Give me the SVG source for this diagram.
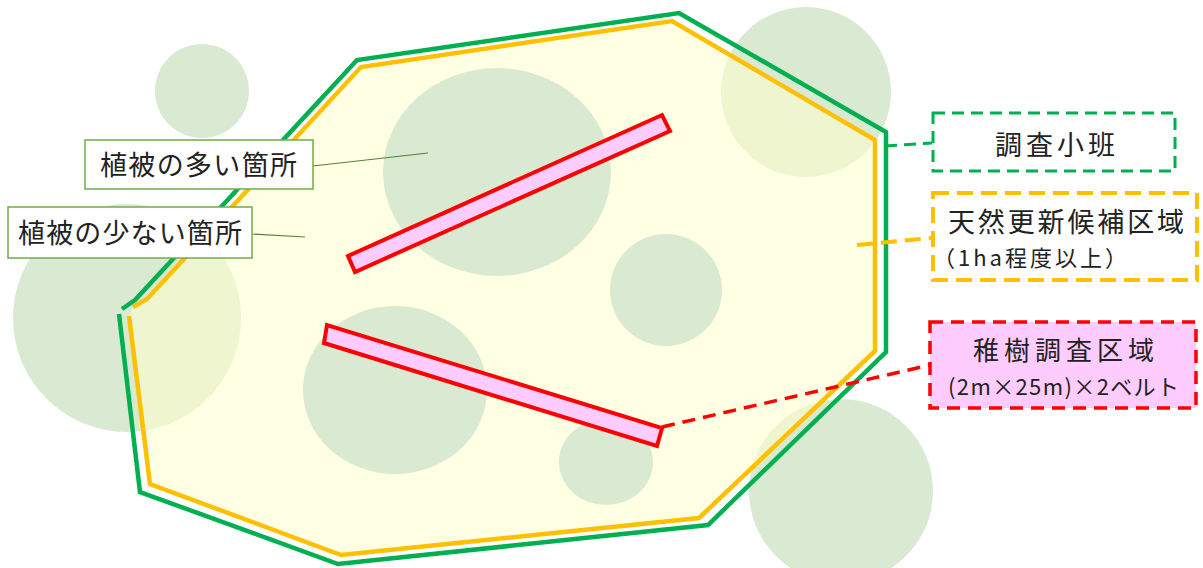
<svg xmlns="http://www.w3.org/2000/svg" width="1203" height="568" viewBox="0 0 1203 568">
<style>
.cir{fill:#DAE9D2}
.lbl{font-family:"Noto Sans CJK JP","Noto Sans",sans-serif;fill:#222}
.lbox{fill:#fff;stroke:#70AD47;stroke-width:1.5}
.lead{stroke:#548235;stroke-width:1.2;fill:none}
.belt{fill:#FFCCFF;stroke:#FF0000;stroke-width:4;stroke-linejoin:miter}
</style>
<rect width="1203" height="568" fill="#fff"/>
<g id="edge-circles">
<circle class="cir" cx="202" cy="91" r="47"/>
<circle class="cir" cx="806" cy="92" r="85"/>
<circle class="cir" cx="127" cy="318" r="114"/>
<circle class="cir" cx="841" cy="491" r="92"/>
</g>
<g id="candidate-area-fill">
<polygon points="133,307 147,299 361,67 672,21 875,140 875,351 699,518 341,555 150,484 129,316" fill="#FFFFCC" fill-opacity="0.55"/>
</g>
<g id="inner-circles">
<ellipse class="cir" cx="497" cy="172" rx="114" ry="104"/>
<circle class="cir" cx="666" cy="290" r="56"/>
<ellipse class="cir" cx="395" cy="390" rx="92" ry="84"/>
<ellipse class="cir" cx="606" cy="462" rx="47" ry="43"/>
</g>
<g id="candidate-area">
<path d="M133,307 L147,299 L361,67 L672,21 L875,140 L875,351 L699,518 L341,555 L150,484 L129,316" fill="none" stroke="#FFC000" stroke-width="4.5"/>
</g>
<g id="stand">
<path d="M122,309 L135,300 L357,60 L679,13 L886,132 L886,352 L708,525 L338,564 L140,492 L119,314" fill="none" stroke="#00B050" stroke-width="4.5"/>
</g>
<g id="belt1">
<polygon class="belt" points="348,256 355,272 670,131 662,115"/>
</g>
<g id="belt2">
<polygon class="belt" points="327,325 324,343 657,446 662,428"/>
</g>
<g id="connectors">
<line x1="885" y1="146" x2="932" y2="143" stroke="#00B050" stroke-width="3" stroke-dasharray="12,7"/>
<line x1="857" y1="245" x2="932" y2="238" stroke="#FFC000" stroke-width="4" stroke-dasharray="16,8"/>
<line x1="662" y1="427" x2="930" y2="365" stroke="#FF0000" stroke-width="3.5" stroke-dasharray="13,8"/>
<line class="lead" x1="313" y1="166" x2="428" y2="153"/>
<line class="lead" x1="252" y1="234" x2="305" y2="237"/>
</g>
<g id="label-many">
<rect class="lbox" x="85" y="140" width="228" height="49"/>
<text class="lbl" x="100" y="175" font-size="27" textLength="197" lengthAdjust="spacing">植被の多い箇所</text>
</g>
<g id="label-few">
<rect class="lbox" x="8" y="207" width="244" height="51"/>
<text class="lbl" x="18" y="243" font-size="27" textLength="224" lengthAdjust="spacing">植被の少ない箇所</text>
</g>
<g id="box-stand">
<rect x="933" y="113" width="242" height="58" fill="#fff" stroke="#00B050" stroke-width="3" stroke-dasharray="12,7"/>
<text class="lbl" x="995" y="155" font-size="27" textLength="120" lengthAdjust="spacing">調査小班</text>
</g>
<g id="box-candidate">
<rect x="933" y="193" width="264" height="87" fill="#fff" stroke="#FFC000" stroke-width="4" stroke-dasharray="16,8"/>
<text class="lbl" x="948" y="232" font-size="27" textLength="236" lengthAdjust="spacing">天然更新候補区域</text>
<text class="lbl" x="933" y="266" font-size="22" letter-spacing="3">（1ha程度以上）</text>
</g>
<g id="box-sapling">
<rect x="930" y="322" width="266" height="86" fill="#FFCCFF" stroke="#FF0000" stroke-width="3.5" stroke-dasharray="13,8"/>
<text class="lbl" x="973" y="360" font-size="26" textLength="181" lengthAdjust="spacing">稚樹調査区域</text>
<text class="lbl" x="948" y="395" font-size="22" textLength="231" lengthAdjust="spacing">(2m×25m)×2ベルト</text>
</g>
</svg>
